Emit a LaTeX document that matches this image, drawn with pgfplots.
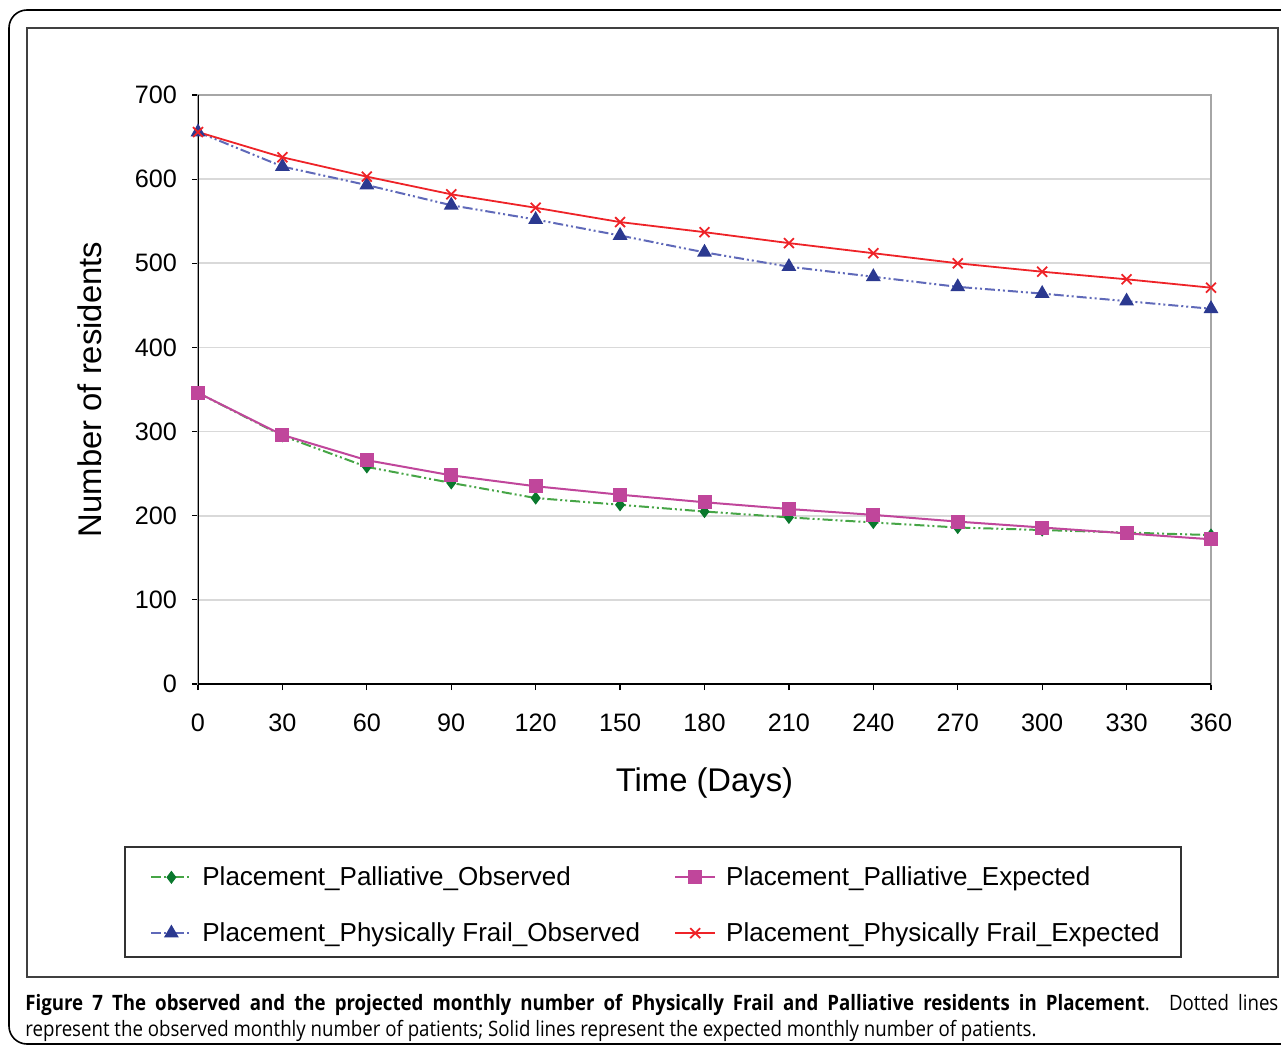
\documentclass[border=0pt]{standalone}
\usepackage{fontspec}
\setmainfont{Liberation Sans}
\newfontfamily\capfont{Open Sans}[FakeStretch=0.88]
\usepackage{pgfplots}
\pgfplotsset{compat=1.18}

\definecolor{palgreen}{RGB}{10,120,45}
\definecolor{palgline}{RGB}{70,165,70}
\definecolor{frblue}{RGB}{43,57,144}
\definecolor{frbline}{RGB}{95,105,185}
\definecolor{palmag}{RGB}{192,70,155}
\definecolor{frred}{RGB}{238,35,40}

\pgfplotstableread{
day palobs palexp frobs frexp
0   346 346 656 656
30  295 296 615 626
60  258 266 593 603
90  239 248 569 582
120 221 235 552 566
150 213 225 533 549
180 205 216 513 537
210 198 208 496 524
240 192 201 484 512
270 186 193 472 500
300 183 186 464 490
330 180 179 455 481
360 177 172 446 471
}\placement

\begin{document}
\begin{tikzpicture}
\begin{axis}[
  at={(99pt,-342pt)}, anchor=south west,
  scale only axis, width=506.5pt, height=294.5pt,
  xmin=0, xmax=360, ymin=0, ymax=700,
  xtick={0,30,...,360}, ytick={0,100,...,700},
  axis line style={draw=gray!70, line width=0.8pt},
  tick align=outside, xtick pos=left, ytick pos=left,
  major tick length=3pt, tick style={black, line width=0.6pt},
  ymajorgrids, grid style={gray!30, line width=0.9pt},
  tick label style={font=\fontsize{12.6}{14}\selectfont},
  yticklabel style={xshift=-4pt},
  xticklabel style={yshift=-8.5pt},
  /pgf/number format/assume math mode=true,
  xlabel={Time (Days)}, ylabel={Number of residents},
  label style={font=\fontsize{16.4}{19}\selectfont},
  xlabel style={at={(axis description cs:0.5,-0.168)}, anchor=center},
  ylabel style={at={(axis description cs:-0.1066,0.5)}, anchor=center},
  legend columns=2, legend cell align=left,
  legend style={draw=none, fill=none, inner sep=0pt,
    at={(-0.0474,-0.3022)}, anchor=north west,
    font=\fontsize{13}{15}\selectfont,
    /tikz/every even column/.append style={column sep=15pt},
    /tikz/row sep=13pt},
  legend image code/.code={
    \draw[mark repeat=2,mark phase=2] plot coordinates {(0pt,0pt) (10pt,0pt) (20pt,0pt)};
    \path (23pt,0pt);},
  obs/.style={line width=1pt, dash pattern=on 5pt off 1.5pt on 1pt off 1.5pt on 1pt off 1.5pt},
]
\addplot[obs, color=palgline, mark=diamond*, mark size=2.5pt,
  mark options={solid, draw=palgreen, fill=palgreen}] table[x=day, y=palobs] {\placement};
\addlegendentry{Placement\_Palliative\_Observed}
\addplot[line width=1pt, color=palmag, mark=square*, mark size=3pt,
  mark options={solid, fill=palmag}] table[x=day, y=palexp] {\placement};
\addlegendentry{Placement\_Palliative\_Expected}
\addplot[obs, color=frbline, mark=triangle*, mark size=3.3pt,
  mark options={solid, draw=frblue, fill=frblue}] table[x=day, y=frobs] {\placement};
\addlegendentry{Placement\_Physically Frail\_Observed}
\addplot[line width=0.9pt, color=frred, mark=x, mark size=3.5pt,
  mark options={solid}] table[x=day, y=frexp] {\placement};
\addlegendentry{Placement\_Physically Frail\_Expected}
\draw[black, line width=0.8pt] (rel axis cs:0,1) -- (rel axis cs:0,0) -- (rel axis cs:1,0);
\end{axis}
\begin{scope}[x=0.5pt, y=-0.5pt]
  \useasboundingbox (0,0) rectangle (1281,1048);
  \draw[black, line width=0.8pt, rounded corners=9pt] (9,10) rectangle (1300,1044);
  \draw[black!75, line width=0.7pt] (27,28) rectangle (1278,977);
  \draw[black!80, line width=0.7pt] (125,847) rectangle (1181,957);
  \node[anchor=base west, inner sep=0pt] at (25,1010)
    {\capfont\fontsize{10.6}{12}\selectfont\makebox[626.5pt][s]{\bfseries Figure 7 The observed and the projected monthly number of Physically Frail and Palliative residents in Placement\mdseries. Dotted lines}};
  \node[anchor=base west, inner sep=0pt] at (25,1036)
    {\capfont\fontsize{10.6}{12}\selectfont represent the observed monthly number of patients; Solid lines represent the expected monthly number of patients.};
\end{scope}
\end{tikzpicture}
\end{document}
